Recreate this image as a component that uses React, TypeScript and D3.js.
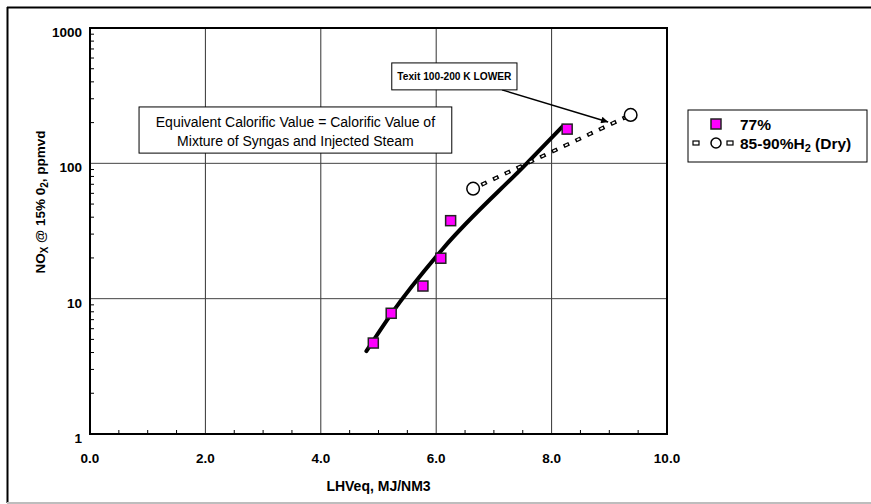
import React from "react";
import * as d3 from "d3";

// 77% H2 series (squares)
const sq77X = [4.91, 5.22, 5.77, 6.08, 6.25, 8.27];
const sq77Y = [4.7, 7.8, 12.4, 19.9, 37.7, 179];

// 85-90% H2 dry series (open circles, dashed)
const h2DryX = [6.64, 9.37];
const h2DryY = [65, 228];

// thick fit curve through the 77% points
const fitX = [4.79, 5.22, 6.12, 7.57, 8.2];
const fitY = [4.1, 7.7, 23.5, 100, 189];

const xTickVals = [0, 2, 4, 6, 8, 10];
const xTickLabels = ["0.0", "2.0", "4.0", "6.0", "8.0", "10.0"];
const yTickVals = [1, 10, 100, 1000];
const yTickLabels = ["1", "10", "100", "1000"];

const noteLines = [
  "Equivalent Calorific Value = Calorific Value of",
  "Mixture of Syngas and Injected Steam",
];
const arrowNote = "Texit 100-200 K LOWER";

const W = 871;
const H = 504;
const margin = { left: 90, top: 28, right: 204, bottom: 70 };
const FONT = "'Liberation Sans', Arial, sans-serif";

export default function App() {
  const x = d3.scaleLinear().domain([0, 10]).range([margin.left, W - margin.right]);
  const y = d3.scaleLog().domain([1, 1000]).range([H - margin.bottom, margin.top]);
  const [x0, x1] = x.range();
  const [y0, y1] = y.range();

  const fitLine = d3
    .line<number>()
    .x((_, i) => x(fitX[i]))
    .y((d) => y(d))
    .curve(d3.curveMonotoneX);

  const dryLine = d3
    .line<number>()
    .x((_, i) => x(h2DryX[i]))
    .y((d) => y(d));

  const minorY: number[] = [];
  for (let p = 1; p < 1000; p *= 10) for (let k = 2; k < 10; k++) minorY.push(p * k);
  const minorX = d3.range(0.5, 10, 0.5).filter((v) => v % 2 !== 0);

  // annotation anchors in data units
  const noteBox = { x0: 0.85, x1: 6.27, yTop: 261, yBot: 119 };
  const arrowBox = { x0: 5.23, x1: 7.4, yTop: 552, yBot: 349 };
  const arrowFrom = { x: 7.14, y: 349 };
  const arrowTo = { x: 8.98, y: 202 };

  const nbx = x(noteBox.x0);
  const nby = y(noteBox.yTop);
  const nbw = x(noteBox.x1) - nbx;
  const nbh = y(noteBox.yBot) - nby;

  const abx = x(arrowBox.x0);
  const aby = y(arrowBox.yTop);
  const abw = x(arrowBox.x1) - abx;
  const abh = y(arrowBox.yBot) - aby;

  return (
    <div style={{ position: "absolute", left: 0, top: 0 }}>
      <svg width={W} height={H} style={{ display: "block", fontFamily: FONT }}>
        <defs>
          <marker id="arr" viewBox="0 0 10 10" refX="10" refY="5" markerWidth="10" markerHeight="7" orient="auto" markerUnits="userSpaceOnUse">
            <path d="M0,0 L10,5 L0,10 z" fill="#000" />
          </marker>
        </defs>
        <rect x={0} y={0} width={W} height={H} fill="#fff" />
        {/* outer frame */}
        <line x1={7} x2={W} y1={7.5} y2={7.5} stroke="#000" strokeWidth={2} />
        <line x1={7.5} x2={7.5} y1={7} y2={503} stroke="#000" strokeWidth={2} />
        <line x1={7} x2={W} y1={503} y2={503} stroke="#bdbdbd" strokeWidth={2} />

        {/* grid */}
        {xTickVals.slice(1, -1).map((v) => (
          <line key={"gx" + v} x1={x(v)} x2={x(v)} y1={y1} y2={y0} stroke="#333" strokeWidth={1} />
        ))}
        {yTickVals.slice(1, -1).map((v) => (
          <line key={"gy" + v} x1={x0} x2={x1} y1={y(v)} y2={y(v)} stroke="#444" strokeWidth={1} />
        ))}

        {/* minor ticks */}
        {minorY.map((v) => (
          <line key={"my" + v} x1={x0} x2={x0 + 4} y1={y(v)} y2={y(v)} stroke="#000" strokeWidth={1} />
        ))}
        {minorX.map((v) => (
          <line key={"mx" + v} x1={x(v)} x2={x(v)} y1={y0} y2={y0 - 4} stroke="#000" strokeWidth={1} />
        ))}

        {/* plot frame */}
        <rect x={x0} y={y1} width={x1 - x0} height={y0 - y1} fill="none" stroke="#000" strokeWidth={2} />

        {/* tick labels */}
        {xTickVals.map((v, i) => (
          <text key={"tx" + v} x={x(v)} y={y0 + 29} textAnchor="middle" fontSize={13.5} fontWeight="bold">
            {xTickLabels[i]}
          </text>
        ))}
        {yTickVals.map((v, i) => (
          <text key={"ty" + v} x={x0 - 8} y={y(v) + 9} textAnchor="end" fontSize={13.5} fontWeight="bold">
            {yTickLabels[i]}
          </text>
        ))}

        {/* axis titles */}
        <text x={(x0 + x1) / 2} y={491} textAnchor="middle" fontSize={14} fontWeight="bold">
          LHVeq, MJ/NM3
        </text>
        <text transform={`translate(45,202) rotate(-90)`} textAnchor="middle" fontSize={13.5} fontWeight="bold">
          NO
          <tspan fontSize={10} dy={3}>X</tspan>
          <tspan dy={-3}> @ 15% 0</tspan>
          <tspan fontSize={10} dy={3}>2</tspan>
          <tspan dy={-3}>, ppmvd</tspan>
        </text>

        {/* note box */}
        <rect x={nbx} y={nby} width={nbw} height={nbh} fill="#fff" stroke="#000" strokeWidth={1} />
        {noteLines.map((t, i) => (
          <text key={t} x={nbx + nbw / 2} y={nby + 20 + i * 19} textAnchor="middle" fontSize={14}>
            {t}
          </text>
        ))}

        {/* fit curve */}
        <path d={fitLine(fitY) ?? ""} fill="none" stroke="#000" strokeWidth={4} strokeLinecap="round" />

        {/* dashed 85-90% line, hollow dashes */}
        <path d={dryLine(h2DryY) ?? ""} fill="none" stroke="#000" strokeWidth={4} strokeDasharray="6 7" strokeDashoffset={-9} />
        <path d={dryLine(h2DryY) ?? ""} fill="none" stroke="#fff" strokeWidth={1.6} strokeDasharray="3 10" strokeDashoffset={-10.5} />

        {/* arrow note */}
        <line x1={x(arrowFrom.x)} y1={y(arrowFrom.y)} x2={x(arrowTo.x)} y2={y(arrowTo.y)} stroke="#000" strokeWidth={1.5} markerEnd="url(#arr)" />
        <rect x={abx} y={aby} width={abw} height={abh} fill="#fff" stroke="#000" strokeWidth={1} />
        <text x={abx + abw / 2} y={aby + abh / 2 + 4} textAnchor="middle" fontSize={10.2} fontWeight="bold">
          {arrowNote}
        </text>

        {/* markers */}
        {h2DryY.map((v, i) => (
          <circle key={"c" + i} cx={x(h2DryX[i])} cy={y(v)} r={6.3} fill="#fff" stroke="#000" strokeWidth={1.5} />
        ))}
        {sq77Y.map((v, i) => (
          <rect key={"s" + i} x={x(sq77X[i]) - 5} y={y(v) - 5} width={10} height={10} fill="#ff00ff" stroke="#222" strokeWidth={1.5} />
        ))}

        {/* legend */}
        <g>
          <rect x={688} y={110} width={179} height={52} fill="#fff" stroke="#000" strokeWidth={1} />
          <rect x={711} y={119} width={10} height={10} fill="#ff00ff" stroke="#222" strokeWidth={1.5} />
          <text x={740} y={130} fontSize={15.5} fontWeight="bold">77%</text>
          <rect x={693} y={141} width={6} height={4} fill="#fff" stroke="#000" strokeWidth={1.2} />
          <circle cx={716} cy={143} r={5} fill="#fff" stroke="#000" strokeWidth={1.5} />
          <rect x={727} y={141} width={6} height={4} fill="#fff" stroke="#000" strokeWidth={1.2} />
          <text x={740} y={149} fontSize={15.5} fontWeight="bold">
            85-90%H<tspan fontSize={11} dy={3}>2</tspan>
            <tspan dy={-3}> (Dry)</tspan>
          </text>
        </g>
      </svg>
    </div>
  );
}
